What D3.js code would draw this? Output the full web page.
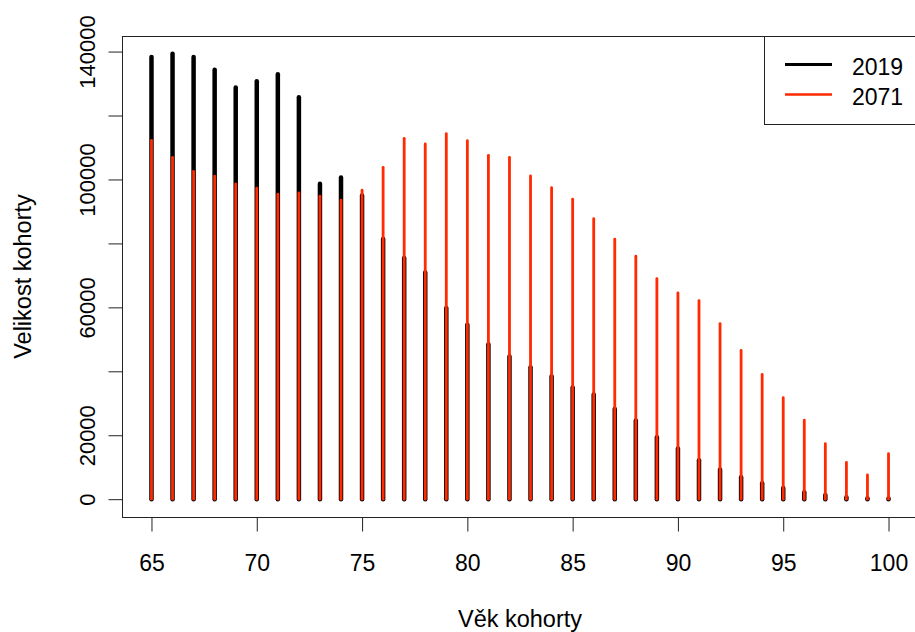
<!DOCTYPE html>
<html>
<head>
<meta charset="utf-8">
<script src="https://cdn.jsdelivr.net/npm/d3@7"></script>
<style>
  body { margin: 0; background: #fff; }
  svg { display: block; font-family: "Liberation Sans", Arial, sans-serif; }
</style>
</head>
<body>
<div id="general"></div>
<script>
const w = 915, h = 632;
// plot region (R style: box with 4% padding on both axes)
const m = { l: 122, t: 36, r: 918, b: 517 };

const ages = [65, 66, 67, 68, 69, 70, 71, 72, 73, 74, 75, 76, 77, 78, 79, 80, 81, 82,
  83, 84, 85, 86, 87, 88, 89, 90, 91, 92, 93, 94, 95, 96, 97, 98, 99, 100];
const cohort2019 = [138300, 139300, 138300, 134300, 128750, 130700, 132900, 125700, 98650,
  100600, 95000, 81340, 75400, 70940, 59780, 54590, 48440, 44590, 41250, 38440, 34900,
  32720, 28220, 24590, 19375, 15840, 12190, 9280, 6875, 5000, 3530, 2190, 1340, 625, 300, 250];
const cohort2071 = [112250, 106940, 102560, 101000, 98600, 97250, 95375, 95780, 94750,
  93500, 96625, 103800, 112870, 111100, 114300, 112125, 107560, 106940, 101100, 97440,
  93810, 87750, 81310, 76000, 69000, 64530, 62125, 54940, 46500, 39000, 31720, 24750,
  17340, 11500, 7560, 14220];
const xTicks = [65, 70, 75, 80, 85, 90, 95, 100];
const yTicks = [0, 20000, 40000, 60000, 80000, 100000, 120000, 140000];
// R drops labels that would overlap, so only these are printed
const yLabels = [0, 20000, 60000, 100000, 140000];
const seriesNames = ["2019", "2071"];

const colblack = "#000000", colred = "#ff2a00", colaxis = "#222";
const fam = "Liberation Sans, Arial, sans-serif";

const svg = d3.select("#general").append("svg").attr("width", w).attr("height", h);

// R pads the data range by 4%
const xr = d3.extent(ages), xpad = (xr[1] - xr[0]) * 0.04;
const ymax = d3.max(cohort2019.concat(cohort2071)), ypad = ymax * 0.04;
const x = d3.scaleLinear().domain([xr[0] - xpad, xr[1] + xpad]).range([m.l, m.r]);
const y = d3.scaleLinear().domain([-ypad, ymax + ypad]).range([m.b, m.t]);

function drawSpikes(vals, col, lw) {
  svg.append("g").selectAll("line")
    .data(ages.map((a, i) => ({ a, v: vals[i] })))
    .join("line")
      .attr("x1", d => x(d.a)).attr("x2", d => x(d.a))
      .attr("y1", y(0)).attr("y2", d => y(d.v))
      .attr("stroke", col)
      .attr("stroke-width", lw)
      .attr("stroke-linecap", "round");
}
drawSpikes(cohort2019, colblack, 4.5);
drawSpikes(cohort2071, colred, 2.8);

// box
svg.append("rect")
  .attr("x", m.l + 0.5).attr("y", m.t + 0.5)
  .attr("width", m.r - m.l).attr("height", m.b - m.t)
  .attr("fill", "none").attr("stroke", colaxis);

// x axis
const gx = svg.append("g").attr("transform", `translate(0,${m.b + 0.5})`)
  .call(d3.axisBottom(x).tickValues(xTicks).tickSize(14).tickSizeOuter(0));
gx.select(".domain").remove();
gx.selectAll(".tick line").attr("stroke", colaxis);
gx.selectAll(".tick text")
  .attr("y", 53).attr("dy", 0)
  .attr("font-size", 23).attr("font-family", fam)
  .attr("fill", "#000");

// y axis
const gy = svg.append("g").attr("transform", `translate(${m.l + 0.5},0)`)
  .call(d3.axisLeft(y).tickValues(yTicks).tickSize(14).tickSizeOuter(0)
    .tickFormat(d => yLabels.includes(d) ? d3.format("d")(d) : ""));
gy.select(".domain").remove();
gy.selectAll(".tick line").attr("stroke", colaxis);
gy.selectAll(".tick text")
  .attr("transform", "rotate(-90)")
  .attr("x", 0).attr("y", -28).attr("dy", 0)
  .attr("text-anchor", "middle")
  .attr("font-size", 22).attr("font-family", fam)
  .attr("fill", "#000");

// axis titles
svg.append("text")
  .attr("x", (m.l + m.r) / 2).attr("y", 627)
  .attr("text-anchor", "middle").attr("font-size", 23.5)
  .text("Věk kohorty");
svg.append("text")
  .attr("transform", `translate(31,${(m.t + m.b) / 2}) rotate(-90)`)
  .attr("text-anchor", "middle").attr("font-size", 23.5)
  .text("Velikost kohorty");

// legend
const lg = svg.append("g");
lg.append("rect")
  .attr("x", 764.5).attr("y", m.t + 0.5)
  .attr("width", m.r - 764).attr("height", 88)
  .attr("fill", "#fff").attr("stroke", colaxis);
const legCols = [colblack, colred], legLw = [3, 2.5];
seriesNames.forEach((s, i) => {
  const yy = 64.5 + i * 30;
  lg.append("line")
    .attr("x1", 785).attr("x2", 832)
    .attr("y1", yy).attr("y2", yy)
    .attr("stroke", legCols[i]).attr("stroke-width", legLw[i]);
  lg.append("text")
    .attr("x", 852).attr("y", yy + 10)
    .attr("font-size", 23)
    .text(s);
});
</script>
</body>
</html>
